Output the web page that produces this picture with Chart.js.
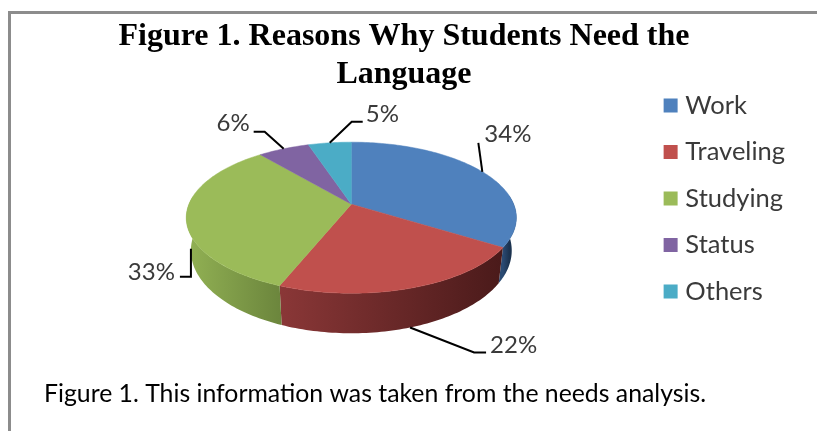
<!DOCTYPE html>
<html>
<head>
<meta charset="utf-8">
<style>
    html, body { margin: 0; padding: 0; background: #fff; overflow: hidden; }
    #frame { position: absolute; left: 8px; top: 11px; width: 809px; height: 420px; box-sizing: border-box;
             border-top: 3px solid #8c8c8c; border-left: 3px solid #8c8c8c; }
    #wrap { position: absolute; left: 0; top: 0; width: 817px; height: 431px; }
</style>
</head>
<body>
<div id="frame"></div>
<div id="wrap"><canvas id="needs-chart"></canvas></div>
<script src="https://cdn.jsdelivr.net/npm/chart.js@4"></script>
<script>
const reasons = ['Work', 'Traveling', 'Studying', 'Status', 'Others'];
const shares = [34, 22, 33, 6, 5];

const topColors = ['#4f81bd', '#c0504d', '#9bbb59', '#8064a2', '#4bacc6'];
const wallLight = ['#2a4a73', '#8a3737', '#8fae52', '#5c4875', '#367c8f'];
const wallDark = ['#1c3350', '#4a1a1a', '#6c863d', '#46365a', '#2a6070'];

// where each value label sits relative to its slice, with the leader's elbow and end
const leaderRoutes = [
    { plane: 'top', points: [[-4, -29]], text: [2, -38], align: 'left' },
    { plane: 'bottom', points: [[64, 25], [76, 25]], text: [80, 18], align: 'left' },
    { plane: 'bottom', points: [[0, 28], [-11, 28]], text: [-16, 24], align: 'right' },
    { plane: 'top', points: [[-19, -17], [-30, -17]], text: [-34, -26], align: 'right' },
    { plane: 'top', points: [[22, -21], [33, -21]], text: [36, -29], align: 'left' }
];

// perspective of the disc: 1 - tilt * v divides both axes so the near edge looks bigger
const tilt = 0.1787;
const squashTop = 0.443;
const squashBottom = 0.485;
const dropBottom = 31.6;
const shrinkBottom = 0.972;
const widthFactor = 0.984;

function project(arc, angle, plane) {
    const u = Math.cos(angle);
    const v = Math.sin(angle);
    const w = 1 - tilt * v;
    const r = arc.outerRadius;
    const low = plane === 'bottom';
    return {
        x: arc.x + r * widthFactor * (low ? shrinkBottom : 1) * u / w,
        y: arc.y + (low ? dropBottom : 0) + r * (low ? squashBottom : squashTop) * v / w
    };
}

function traceRim(ctx, arc, from, to, plane) {
    const steps = Math.max(2, Math.ceil(Math.abs(to - from) / 0.02));
    for (let i = 0; i <= steps; i++) {
        const p = project(arc, from + (to - from) * i / steps, plane);
        ctx.lineTo(p.x, p.y);
    }
}

const pie3d = {
    id: 'pie3d',
    afterLayout(chart) {
        // title and caption hang further left than the pie's box, legend rides above the pie centre
        chart.titleBlock.left -= 42;
        chart.boxes.find(box => box.position === 'bottom').left -= 11;
        chart.legend.top -= 17;
        chart.legend.bottom -= 17;
    },
    beforeDatasetDraw(chart, args) {
        const ctx = chart.ctx;
        const arcs = args.meta.data;
        ctx.save();

        // side walls, only the part of each slice facing the viewer
        const wallFrom = -0.12;
        const wallTo = Math.PI + 0.12;
        arcs.forEach((arc, i) => {
            const from = Math.max(arc.startAngle, wallFrom);
            const to = Math.min(arc.endAngle, wallTo);
            if (to <= from) return;
            const a = project(arc, from, 'top');
            const b = project(arc, to, 'top');
            const grad = ctx.createLinearGradient(Math.min(a.x, b.x), 0, Math.max(a.x, b.x), 0);
            grad.addColorStop(0, wallLight[i]);
            grad.addColorStop(1, wallDark[i]);
            ctx.fillStyle = grad;
            ctx.beginPath();
            traceRim(ctx, arc, from, to, 'top');
            traceRim(ctx, arc, to, from, 'bottom');
            ctx.closePath();
            ctx.fill();
        });

        // top face
        arcs.forEach((arc, i) => {
            ctx.fillStyle = topColors[i];
            ctx.strokeStyle = topColors[i];
            ctx.lineWidth = 0.5;
            ctx.beginPath();
            ctx.moveTo(arc.x, arc.y);
            traceRim(ctx, arc, arc.startAngle, arc.endAngle, 'top');
            ctx.closePath();
            ctx.fill();
            ctx.stroke();
        });

        // leaders and value labels
        ctx.font = '24px Lato';
        ctx.textBaseline = 'middle';
        arcs.forEach((arc, i) => {
            const route = leaderRoutes[i];
            const start = project(arc, (arc.startAngle + arc.endAngle) / 2, route.plane);
            ctx.strokeStyle = '#000';
            ctx.lineWidth = 2;
            ctx.beginPath();
            ctx.moveTo(start.x, start.y);
            route.points.forEach(p => ctx.lineTo(start.x + p[0], start.y + p[1]));
            ctx.stroke();
            ctx.fillStyle = '#3a3a3a';
            ctx.textAlign = route.align;
            ctx.fillText(shares[i] + '%', start.x + route.text[0], start.y + route.text[1]);
        });

        ctx.restore();
        return false;
    }
};

new Chart(document.getElementById('needs-chart'), {
    type: 'pie',
    data: {
        labels: reasons,
        datasets: [{ data: shares, backgroundColor: topColors, borderWidth: 0 }]
    },
    options: {
        responsive: true,
        maintainAspectRatio: false,
        animation: false,
        layout: { padding: { left: 55, right: 22 } },
        plugins: {
            title: {
                display: true,
                text: ['Figure 1. Reasons Why Students Need the', 'Language'],
                color: '#000',
                font: { family: 'Liberation Serif', size: 32, weight: 'bold', lineHeight: 1.19 },
                padding: { top: 18, bottom: -55 }
            },
            subtitle: {
                display: true,
                position: 'bottom',
                align: 'start',
                text: 'Figure 1. This information was taken from the needs analysis.',
                color: '#000',
                font: { family: 'Lato', size: 24.8, weight: 'normal', lineHeight: 1.2 },
                padding: { top: 10, bottom: 22 }
            },
            legend: {
                position: 'right',
                labels: {
                    color: '#3a3a3a',
                    font: { family: 'Lato', size: 25.5 },
                    boxWidth: 4,
                    boxHeight: 4,
                    padding: 21,
                    generateLabels(chart) {
                        const items = Chart.overrides.pie.plugins.legend.labels.generateLabels(chart);
                        return items.map((item, i) => ({ ...item, lineWidth: 10, strokeStyle: topColors[i] }));
                    }
                }
            },
            tooltip: { enabled: false }
        }
    },
    plugins: [pie3d]
});
</script>
</body>
</html>
